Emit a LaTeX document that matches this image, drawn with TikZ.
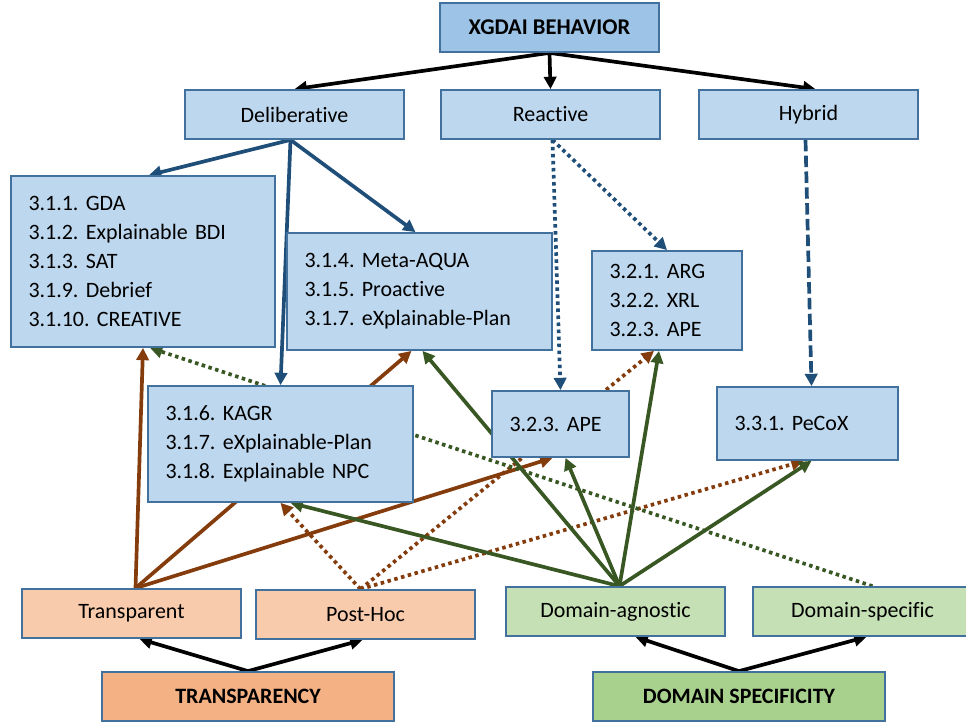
\documentclass[tikz,border=0pt]{standalone}
\usepackage{fontspec}
\setmainfont{Carlito}[Ligatures=NoCommon]
\usepackage{tikz}
\usetikzlibrary{positioning,arrows.meta}
\definecolor{boxblue}{HTML}{BDD7EE}
\definecolor{titleblue}{HTML}{9DC3E6}
\definecolor{boxborder}{HTML}{41719C}
\definecolor{peach}{HTML}{F8CBAD}
\definecolor{peachdark}{HTML}{F4B183}
\definecolor{sage}{HTML}{C5E0B4}
\definecolor{sagedark}{HTML}{A9D18E}
\definecolor{arrowblue}{HTML}{1F4E79}
\definecolor{arrowbrown}{HTML}{843C0C}
\definecolor{arrowgreen}{HTML}{385723}
\pgfdeclarelayer{background}
\pgfsetlayers{background,main}
\tikzset{
	xgdai taxonomy/.style={
		x=0.02cm,y=-0.02cm, % one unit = one pixel of the original figure
		font=\fontsize{12.5}{16.5}\selectfont\frenchspacing,
		>={Triangle[length=7pt,width=7pt]}
	},
	category/.style={
		rectangle,
		draw=boxborder,
		line width=1pt,
		fill=boxblue,
		minimum width=4.38cm,
		minimum height=0.98cm,
		inner sep=0pt
	},
	root category/.style={
		category,
		fill=titleblue,
		font=\fontsize{12.8}{16.5}\selectfont\bfseries
	},
	method list/.style={
		category,
		minimum width=0pt, % width comes from text width + 2*inner xsep
		align=left,
		inner xsep=0.35cm,
		inner ysep=0pt
	},
	transparency leaf/.style={
		category,
		fill=peach
	},
	transparency root/.style={
		category,
		fill=peachdark,
		minimum width=5.84cm,
		font=\fontsize{12.5}{16.5}\selectfont\bfseries
	},
	domain leaf/.style={
		category,
		fill=sage
	},
	domain root/.style={
		category,
		fill=sagedark,
		minimum width=5.84cm,
		font=\fontsize{12.5}{16.5}\selectfont\bfseries
	},
	link/.style={->,line width=2.1pt},
	tree arrow/.style={link,draw=black},
	deliberative arrow/.style={link,draw=arrowblue},
	reactive arrow/.style={link,draw=arrowblue,dash pattern=on 2pt off 2pt},
	hybrid arrow/.style={link,draw=arrowblue,dash pattern=on 6.5pt off 2.5pt},
	transparent arrow/.style={link,draw=arrowbrown},
	post hoc arrow/.style={link,draw=arrowbrown,dash pattern=on 2pt off 2pt},
	agnostic arrow/.style={link,draw=arrowgreen},
	specific arrow/.style={link,draw=arrowgreen,dash pattern=on 2pt off 2pt}
}

\begin{document}
\begin{tikzpicture}[xgdai taxonomy]
	\useasboundingbox (0,0) rectangle (966,726);
	% behaviour tree
	\node[root category] (xgdai) at (549.5,27.5) {XGDAI BEHAVIOR};
	\node[category] (delib) at (294.5,114.5) {Deliberative};
	\node[category] (react) at (550.5,114.5) {Reactive};
	\node[category] (hybrid) at (808.5,114.5) {Hybrid};
	% method groups
	\node[method list,text width=4.58cm,minimum height=3.42cm] (grpA) at (143,261.5)
		{3.1.1. GDA\\3.1.2. Explainable BDI\\3.1.3. SAT\\3.1.9. Debrief\\3.1.10. CREATIVE};
	\node[method list,text width=4.60cm,minimum height=2.34cm] (grpB) at (419.5,291.5)
		{3.1.4. Meta-AQUA\\3.1.5. Proactive\\3.1.7. eXplainable-Plan};
	\node[method list,text width=2.30cm,minimum height=1.98cm] (grpC) at (667,300.5)
		{3.2.1. ARG\\3.2.2. XRL\\3.2.3. APE};
	\node[method list,text width=4.60cm,minimum height=2.32cm] (grpD) at (280.5,444)
		{3.1.6. KAGR\\3.1.7. eXplainable-Plan\\3.1.8. Explainable NPC};
	\node[method list,text width=2.04cm,minimum height=1.32cm] (grpE) at (560.5,424)
		{3.2.3. APE};
	\node[method list,text width=2.92cm,minimum height=1.46cm] (grpF) at (807.5,423.5)
		{3.3.1. PeCoX};
	% transparency and domain specificity
	\node[transparency leaf] (transp) at (131.5,613.5) {Transparent};
	\node[transparency leaf] (posthoc) at (365.5,614.5) {Post-Hoc};
	\node[domain leaf] (agnostic) at (615.5,611.5) {Domain-agnostic};
	\node[domain leaf] (specific) at (862.5,611.5) {Domain-specific};
	\node[transparency root] (transparency) at (248,696.5) {TRANSPARENCY};
	\node[domain root] (specificity) at (739,696.5) {DOMAIN SPECIFICITY};

	\begin{pgfonlayer}{background} % links pass behind the boxes
		\draw[tree arrow] (xgdai.south) -- (delib.north);
		\draw[tree arrow] (xgdai.south) -- (react.north);
		\draw[tree arrow] (xgdai.south) -- ([shift={(7,0)}]hybrid.north);
		\draw[deliberative arrow] ([shift={(-4,0)}]delib.south) -- ([shift={(6,0)}]grpA.north);
		\draw[deliberative arrow] ([shift={(-4,0)}]delib.south) -- (grpD.north);
		\draw[deliberative arrow] ([shift={(-4,0)}]delib.south) -- ([shift={(-4,0)}]grpB.north);
		\draw[reactive arrow] ([shift={(2,0)}]react.south) -- (grpE.north);
		\draw[reactive arrow] ([shift={(2,0)}]react.south) -- (grpC.north);
		\draw[hybrid arrow] ([shift={(-3,0)}]hybrid.south) -- ([shift={(4,0)}]grpF.north);

		\draw[transparent arrow] ([shift={(4,0)}]transp.north) -- (grpA.south);
		\draw[transparent arrow] ([shift={(4,0)}]transp.north) -- ([shift={(-8,0)}]grpB.south);
		\draw[transparent arrow] ([shift={(4,0)}]transp.north) -- ([shift={(-8,0)}]grpE.south);
		\draw[post hoc arrow] ([shift={(-5,0)}]posthoc.north) -- (grpD.south);
		\draw[post hoc arrow] ([shift={(-5,0)}]posthoc.north) -- ([shift={(-13,0)}]grpC.south);
		\draw[post hoc arrow] ([shift={(-5,0)}]posthoc.north) -- ([shift={(-4,0)}]grpF.south);

		\draw[agnostic arrow] ([shift={(4,0)}]agnostic.north) -- ([shift={(10,0)}]grpD.south);
		\draw[agnostic arrow] ([shift={(4,0)}]agnostic.north) -- ([shift={(3,0)}]grpB.south);
		\draw[agnostic arrow] ([shift={(4,0)}]agnostic.north) -- ([shift={(5,0)}]grpE.south);
		\draw[agnostic arrow] ([shift={(4,0)}]agnostic.north) -- ([shift={(-8,0)}]grpC.south);
		\draw[agnostic arrow] ([shift={(4,0)}]agnostic.north) -- ([shift={(4,0)}]grpF.south);
		\draw[specific arrow] ([shift={(10,0)}]specific.north) -- ([shift={(7,0)}]grpA.south);

		\draw[tree arrow] (transparency.north) -- ([shift={(8,0)}]transp.south);
		\draw[tree arrow] (transparency.north) -- ([shift={(-3,0)}]posthoc.south);
		\draw[tree arrow] (specificity.north) -- ([shift={(20,0)}]agnostic.south);
		\draw[tree arrow] (specificity.north) -- ([shift={(4,0)}]specific.south);
	\end{pgfonlayer}
\end{tikzpicture}
\end{document}
